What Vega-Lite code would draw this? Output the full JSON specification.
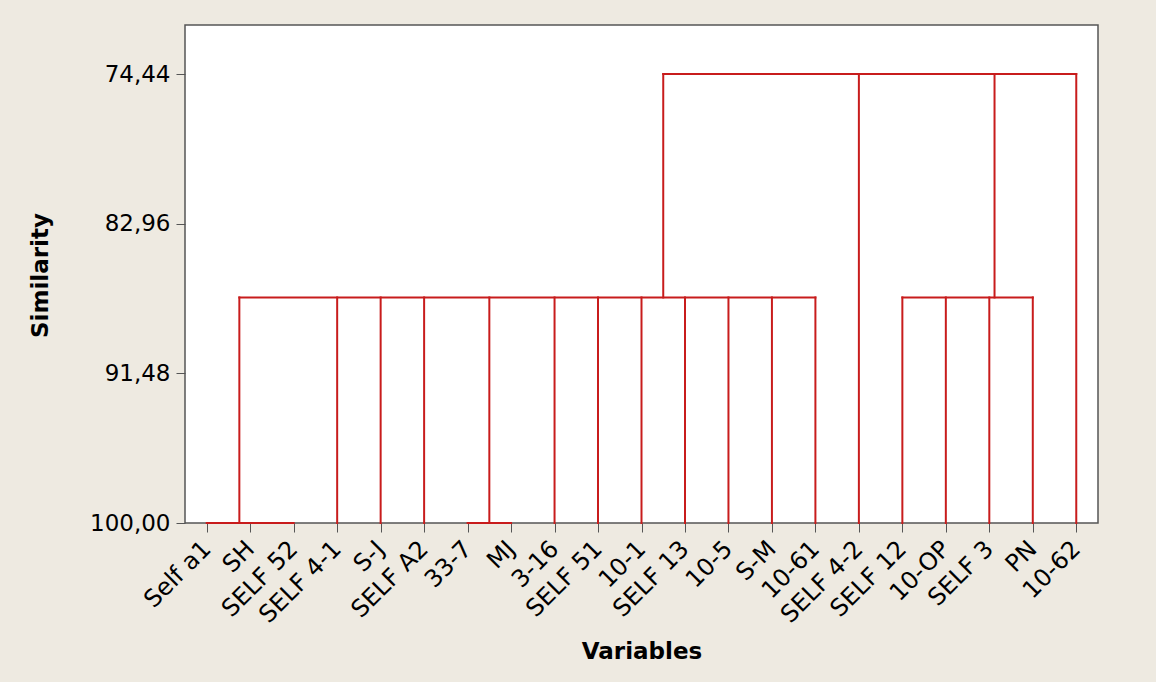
{
  "$schema": "https://vega.github.io/schema/vega-lite/v6.json",
  "autosize": {"type": "none"},
  "padding": {"left": 185, "top": 25, "right": 58, "bottom": 159},
  "width": 913,
  "height": 498,
  "background": "#EEEAE1",
  "config": {
    "view": {"fill": "white", "stroke": "#555555", "strokeWidth": 1.5},
    "font": "DejaVu Sans"
  },
  "data": {
    "values": [
      {"x": 0, "x2": 2, "y": 100, "y2": 100},
      {"x": 6, "x2": 7, "y": 100, "y2": 100},
      {"x": 0.75, "x2": 14, "y": 87.16, "y2": 87.16},
      {"x": 16, "x2": 19, "y": 87.16, "y2": 87.16},
      {"x": 10.5, "x2": 20, "y": 74.44, "y2": 74.44},
      {"x": 0.75, "x2": 0.75, "y": 100, "y2": 87.16},
      {"x": 3, "x2": 3, "y": 100, "y2": 87.16},
      {"x": 4, "x2": 4, "y": 100, "y2": 87.16},
      {"x": 5, "x2": 5, "y": 100, "y2": 87.16},
      {"x": 6.5, "x2": 6.5, "y": 100, "y2": 87.16},
      {"x": 8, "x2": 8, "y": 100, "y2": 87.16},
      {"x": 9, "x2": 9, "y": 100, "y2": 87.16},
      {"x": 10, "x2": 10, "y": 100, "y2": 87.16},
      {"x": 11, "x2": 11, "y": 100, "y2": 87.16},
      {"x": 12, "x2": 12, "y": 100, "y2": 87.16},
      {"x": 13, "x2": 13, "y": 100, "y2": 87.16},
      {"x": 14, "x2": 14, "y": 100, "y2": 87.16},
      {"x": 10.5, "x2": 10.5, "y": 87.16, "y2": 74.44},
      {"x": 15, "x2": 15, "y": 100, "y2": 74.44},
      {"x": 16, "x2": 16, "y": 100, "y2": 87.16},
      {"x": 17, "x2": 17, "y": 100, "y2": 87.16},
      {"x": 18, "x2": 18, "y": 100, "y2": 87.16},
      {"x": 19, "x2": 19, "y": 100, "y2": 87.16},
      {"x": 18.12, "x2": 18.12, "y": 87.16, "y2": 74.44},
      {"x": 20, "x2": 20, "y": 100, "y2": 74.44}
    ]
  },
  "mark": {"type": "rule", "color": "#C81C1C", "strokeWidth": 2, "strokeCap": "square"},
  "encoding": {
    "x": {
      "field": "x",
      "type": "quantitative",
      "scale": {"domain": [-0.5, 20.5], "nice": false, "zero": false},
      "axis": {
        "title": "Variables",
        "values": [0,1,2,3,4,5,6,7,8,9,10,11,12,13,14,15,16,17,18,19,20],
        "labelExpr": "['Self a1','SH','SELF 52','SELF 4-1','S-J','SELF A2','33-7','MJ','3-16','SELF 51','10-1','SELF 13','10-5','S-M','10-61','SELF 4-2','SELF 12','10-OP','SELF 3','PN','10-62'][datum.value]",
        "labelAngle": -45,
        "labelAlign": "right",
        "labelBaseline": "middle",
        "labelPadding": 13,
        "labelFontSize": 24,
        "labelColor": "#000000",
        "labelOverlap": false,
        "labelFlush": false,
        "domain": false,
        "grid": false,
        "tickColor": "#555555",
        "tickSize": 9,
        "titleFontSize": 23,
        "titleFontWeight": "bold",
        "titleColor": "#000000",
        "titleY": 135,
        "titleBaseline": "alphabetic"
      }
    },
    "x2": {"field": "x2"},
    "y": {
      "field": "y",
      "type": "quantitative",
      "scale": {"domain": [71.65, 100], "reverse": true, "nice": false, "zero": false},
      "axis": {
        "title": "Similarity",
        "values": [74.44, 82.96, 91.48, 100],
        "labelExpr": "replace(format(datum.value, '.2f'), '.', ',')",
        "labelFontSize": 23,
        "labelColor": "#000000",
        "labelPadding": 6,
        "domain": false,
        "grid": false,
        "tickColor": "#555555",
        "tickSize": 9,
        "titleFontSize": 23,
        "titleFontWeight": "bold",
        "titleColor": "#000000",
        "titleAngle": -90,
        "titleX": -145,
        "titleY": 250,
        "titleAlign": "center",
        "titleBaseline": "middle"
      }
    },
    "y2": {"field": "y2"}
  }
}
